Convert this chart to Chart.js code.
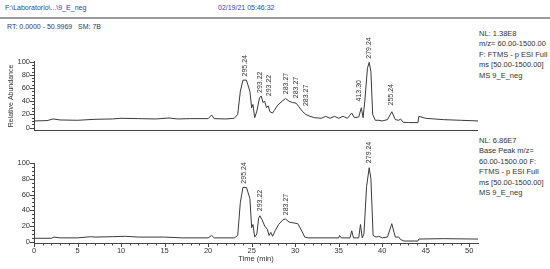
<!DOCTYPE html>
<html>
<head>
<meta charset="utf-8">
<script src="https://cdn.jsdelivr.net/npm/chart.js@4"></script>
<style>
  body { margin: 0; background: #fff; font-family: Arial, "Liberation Sans", sans-serif; }
  #page { position: relative; width: 550px; height: 269px; overflow: hidden; }
  .txt { position: absolute; white-space: nowrap; color: #333; font-size: 7.5px; line-height: 10.4px; }
  .hdr { color: #2a48a8; font-size: 7px; }
  #rule { position: absolute; left: 0; top: 17px; width: 550px; height: 1.5px; background: #9a9a9a; }
  canvas { position: absolute; left: 0; }
</style>
</head>
<body>
<div id="page">
  <div class="txt hdr" style="left:5px; top:3px;">F:\Laboratorio\...\9_E_neg</div>
  <div class="txt hdr" style="left:218px; top:3px;">02/19/21 05:46:32</div>
  <div id="rule"></div>
  <div class="txt" style="left:7px; top:22px; font-size:7px; color:#2e3a66;">RT: 0.0000 - 50.9969&nbsp;&nbsp; SM: 7B</div>

  <div class="txt" style="left:479px; top:29px;">NL: 1.38E8<br>m/z= 60.00-1500.00<br>F: FTMS - p ESI Full<br>ms [50.00-1500.00]<br>MS 9_E_neg</div>
  <div class="txt" style="left:479px; top:136px;">NL: 6.86E7<br>Base Peak m/z=<br>60.00-1500.00 F:<br>FTMS - p ESI Full<br>ms [50.00-1500.00]<br>MS 9_E_neg</div>

  <canvas id="topChart" width="480" height="110" style="top:28px;"></canvas>
  <canvas id="baseChart" width="480" height="129" style="top:140px;"></canvas>
</div>

<script>
// TIC trace (top panel), time in min / relative abundance
const tTop = [0, 1.5, 2.2, 3, 5, 7, 9, 10, 12, 14, 15.5, 16.5, 18, 20, 20.4, 20.7, 22, 23, 23.4, 23.7,
  24.0, 24.4, 24.8, 25.0, 25.15, 25.35, 25.6, 25.9, 26.1, 26.3, 26.5, 26.7, 26.9, 27.1, 27.4, 27.6,
  28.0, 28.5, 28.9, 29.3, 29.7, 30.1, 30.4, 30.8, 31.2, 31.7, 32.2, 33, 33.5, 34, 34.5, 35, 35.5,
  36, 36.5, 36.8, 37.3, 37.6, 37.8, 38.0, 38.3, 38.5, 38.7, 38.9, 39.2, 39.6, 40, 40.6, 41.1, 41.5,
  41.9, 42.1, 42.4, 43, 44.1, 44.2, 45, 47, 49, 51];
const vTop = [10, 10.5, 13, 11.5, 11, 12.5, 13, 14, 13.5, 13, 14.5, 13, 13.5, 13.5, 19, 13.5, 13, 14, 20, 55,
  72, 72, 55, 30, 35, 15, 25, 45, 48, 38, 40, 30, 33, 24, 22, 26,
  34, 40, 44, 40, 38, 37, 32, 25, 20, 17, 15, 14, 17, 14, 17, 14, 17,
  14, 22, 15, 16, 30, 15, 40, 90, 99, 85, 20, 11, 11, 10, 12, 24, 12,
  11, 13, 8, 7.5, 7.5, 17, 14, 12, 11, 10];

// Base peak trace (bottom panel)
const tBase = [0, 2, 2.3, 3, 5, 6.5, 7, 9, 10.5, 12, 15, 17, 20, 20.4, 20.7, 23, 23.4, 23.7, 24.0, 24.4,
  24.8, 25.0, 25.15, 25.35, 25.6, 25.8, 25.95, 26.2, 26.5, 26.8, 27.0, 27.2, 27.4, 27.7, 28.1, 28.6,
  28.9, 29.3, 29.8, 30.3, 30.7, 31.1, 31.5, 35, 35.1, 35.3, 36.3, 36.5, 36.7, 37.3, 37.5, 37.7, 37.9,
  38.2, 38.5, 38.7, 38.95, 39.3, 39.6, 40, 40.6, 41.1, 41.5, 41.9, 42.1, 42.5, 44.1, 44.2, 47, 51];
const vBase = [4.5, 4.5, 6, 5, 5, 6.5, 6, 6.5, 7, 6, 6, 5, 5, 8, 5, 5, 8, 50, 69, 69,
  55, 18, 22, 6, 10, 30, 33, 28, 20, 16, 8, 12, 7, 14, 22, 28,
  29, 25, 24, 23, 15, 6, 5, 5, 8, 5, 5, 14, 5, 5, 22, 5, 10,
  70, 94, 80, 8, 6, 7, 5, 6, 23, 6, 6, 3, 1, 1, 3.5, 4, 3.5];

// peak annotations: label, retention time, height the label sits on
const topPeakLabels = ['295.24', '293.22', '293.22', '283.27', '283.27', '283.27', '413.30', '279.24', '255.24'];
const topPeakTimes = [24.2, 26.0, 26.95, 28.9, 30.05, 31.2, 37.3, 38.5, 41.0];
const topPeakHeights = [73, 48, 43, 46, 40, 28, 35, 100, 29];

const basePeakLabels = ['295.24', '293.22', '283.27', '279.24'];
const basePeakTimes = [24.15, 25.95, 28.9, 38.5];
const basePeakHeights = [70, 35, 30, 96];

const yTickValues = [0, 5, 10, 15, 20, 25, 30, 35, 40, 45, 50, 55, 60, 65, 70, 75, 80, 85, 90, 95, 100];
const xTickValues = Array.from({length: 51}, (_, i) => i);

const FONT = 'Arial, "Liberation Sans", sans-serif';
const INK = '#333';
const AXIS = '#444';

const peakLabels = {
  id: 'peakLabels',
  afterDatasetsDraw(chart, args, opts) {
    const {ctx} = chart;
    const x = chart.scales.x, y = chart.scales.y;
    ctx.save();
    ctx.font = '7px ' + FONT;
    ctx.fillStyle = INK;
    ctx.textAlign = 'left';
    ctx.textBaseline = 'middle';
    opts.labels.forEach((lab, i) => {
      const px = x.getPixelForValue(opts.times[i]);
      const py = y.getPixelForValue(opts.heights[i]) - 3;
      ctx.save();
      ctx.translate(px, py);
      ctx.rotate(-Math.PI / 2);
      ctx.fillText(lab, 0, 0);
      ctx.restore();
    });
    ctx.restore();
  }
};

const tickMarks = {
  id: 'tickMarks',
  afterDraw(chart, args, opts) {
    const {ctx, chartArea} = chart;
    const y = chart.scales.y, x = chart.scales.x;
    ctx.save();
    ctx.strokeStyle = AXIS;
    ctx.lineWidth = 1;
    ctx.beginPath();
    y.ticks.forEach(tk => {
      const py = Math.round(y.getPixelForValue(tk.value)) + 0.5;
      const len = tk.value % 20 === 0 ? 4 : 2;
      ctx.moveTo(chartArea.left - len, py);
      ctx.lineTo(chartArea.left, py);
    });
    if (opts.xTicks) {
      x.ticks.forEach(tk => {
        const px = Math.round(x.getPixelForValue(tk.value)) + 0.5;
        const len = tk.value % 5 === 0 ? 4 : 2.5;
        ctx.moveTo(px, chartArea.bottom);
        ctx.lineTo(px, chartArea.bottom + len);
      });
    } else {
      const by = Math.round(chartArea.bottom) + 0.5;
      ctx.moveTo(chartArea.left, by);
      ctx.lineTo(chartArea.right, by);
    }
    ctx.stroke();
    if (opts.yTitle) {
      ctx.fillStyle = INK;
      ctx.font = '7px ' + FONT;
      ctx.textAlign = 'center';
      ctx.textBaseline = 'middle';
      ctx.translate(11, 68);
      ctx.rotate(-Math.PI / 2);
      ctx.fillText(opts.yTitle, 0, 0);
    }
    ctx.restore();
  }
};

function yAxis(min) {
  return {
    min: min, max: 100,
    afterFit: s => { s.width = 34; },
    afterBuildTicks: s => { s.ticks = yTickValues.map(v => ({value: v})); },
    ticks: {
      autoSkip: false, padding: 4, color: INK, font: {size: 7.5, family: FONT},
      callback: v => (v % 20 === 0 ? v : '')
    },
    grid: {display: false, drawTicks: false},
    border: {display: true, color: AXIS, width: 1}
  };
}

function trace(ts, vs) {
  return {
    data: ts.map((t, i) => ({x: t, y: vs[i]})),
    borderColor: '#3a3a3a',
    borderWidth: 1,
    pointRadius: 0,
    tension: 0,
    fill: false
  };
}

new Chart(document.getElementById('topChart'), {
  type: 'line',
  data: {datasets: [trace(tTop, vTop)]},
  plugins: [peakLabels, tickMarks],
  options: {
    responsive: false,
    animation: false,
    devicePixelRatio: 1,
    layout: {padding: {top: 33.7, bottom: 2, right: 2, left: 0}},
    scales: {
      x: {type: 'linear', min: 0, max: 51, display: false},
      y: yAxis(-3)
    },
    plugins: {
      legend: {display: false},
      tooltip: {enabled: false},
      peakLabels: {labels: topPeakLabels, times: topPeakTimes, heights: topPeakHeights},
      tickMarks: {xTicks: false, yTitle: 'Relative Abundance'}
    }
  }
});

new Chart(document.getElementById('baseChart'), {
  type: 'line',
  data: {datasets: [trace(tBase, vBase)]},
  plugins: [peakLabels, tickMarks],
  options: {
    responsive: false,
    animation: false,
    devicePixelRatio: 1,
    layout: {padding: {top: 23, bottom: 0, right: 2, left: 0}},
    scales: {
      x: {
        type: 'linear', min: 0, max: 51,
        afterFit: s => { s.height = 26; },
        afterBuildTicks: s => { s.ticks = xTickValues.map(v => ({value: v})); },
        ticks: {
          autoSkip: false, maxRotation: 0, padding: 3, color: INK, font: {size: 7.5, family: FONT},
          callback: v => (v % 5 === 0 ? v : '')
        },
        grid: {display: false, drawTicks: false},
        border: {display: true, color: AXIS, width: 1},
        title: {display: true, text: 'Time (min)', color: INK, font: {size: 7.5, family: FONT}, padding: {top: 0, bottom: 5.5}}
      },
      y: yAxis(-1.5)
    },
    plugins: {
      legend: {display: false},
      tooltip: {enabled: false},
      peakLabels: {labels: basePeakLabels, times: basePeakTimes, heights: basePeakHeights},
      tickMarks: {xTicks: true}
    }
  }
});
</script>
</body>
</html>
